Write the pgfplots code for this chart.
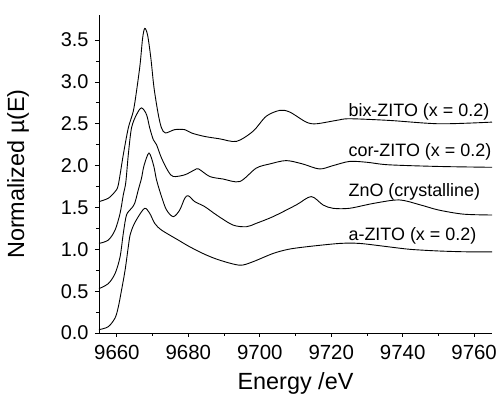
\documentclass[border=0pt]{standalone}
\usepackage{pgfplots}
\pgfplotsset{compat=1.18}
\usepackage{fontspec}
\setmainfont{Liberation Sans}
\begin{document}
\begin{tikzpicture}
\begin{axis}[
  scale only axis,
  width=393bp, height=318bp,
  xmin=9655, xmax=9765, ymin=0, ymax=3.8,
  axis x line=bottom, axis y line=left,
  axis line style={-, line width=0.8bp},
  tick align=outside,
  major tick length=4bp, minor tick length=3bp,
  every tick/.style={black, line width=0.8bp},
  xtick={9660,9680,...,9760}, minor x tick num=1,
  ytick={0,0.5,...,3.5}, minor y tick num=1,
  /pgf/number format/assume math mode=true,
  x tick label style={/pgf/number format/set thousands separator={}, font=\fontsize{20.5}{23}\selectfont, yshift=-5bp},
  y tick label style={/pgf/number format/.cd, fixed, fixed zerofill, precision=1, /tikz/.cd, font=\fontsize{20}{23}\selectfont, xshift=-3bp},
  xlabel={Energy /eV},
  ylabel={Normalized \textmu(E)},
  xlabel style={font=\fontsize{23.5}{28}\selectfont, at={(axis description cs:0.5,-0.179)}, anchor=base},
  ylabel style={font=\fontsize{23.5}{28}\selectfont, at={(axis description cs:-0.206,0.5)}, anchor=center},
  clip=false,
]
% a-ZITO
\addplot[black, line width=0.9bp, smooth, tension=0.5] coordinates {
(9655,0.04) (9657.6,0.075) (9659.5,0.18) (9660.4,0.31) (9661.3,0.51) (9662.3,0.75)
(9663.2,1.03) (9663.7,1.17) (9664.6,1.28) (9666,1.39) (9667.8,1.49) (9669.2,1.43)
(9670.6,1.31) (9672.5,1.23) (9677.2,1.11) (9680.4,1.03) (9684.6,0.94) (9688.8,0.87)
(9694.4,0.81) (9698,0.85) (9703.7,0.95) (9708,1.00) (9713,1.03) (9722.3,1.07)
(9728,1.07) (9736,1.03) (9742,1.00) (9750,0.98) (9758,0.97) (9765,0.97)
};
% ZnO
\addplot[black, line width=0.9bp, smooth, tension=0.5] coordinates {
(9655,0.53) (9657.6,0.59) (9659.5,0.71) (9660.9,0.91) (9661.8,1.19) (9662.7,1.41)
(9664.1,1.49) (9665,1.55) (9666,1.71) (9666.9,1.85) (9667.6,2.00) (9669,2.15)
(9670.3,2.00) (9671.1,1.83) (9672.5,1.63) (9673.9,1.47) (9675.8,1.39) (9677.6,1.47)
(9679,1.61) (9680,1.64) (9681.8,1.57) (9684.6,1.51) (9687.9,1.41) (9692.5,1.29)
(9696.3,1.27) (9699,1.31) (9703.7,1.39) (9710.2,1.53) (9714.4,1.63) (9717.7,1.53)
(9720.5,1.49) (9725.1,1.49) (9732,1.55) (9739,1.59) (9745,1.53) (9750,1.47)
(9757,1.42) (9765,1.41)
};
% cor-ZITO
\addplot[black, line width=0.9bp, smooth, tension=0.5] coordinates {
(9655,1.07) (9657.6,1.11) (9659.5,1.23) (9660.9,1.43) (9661.8,1.65) (9662.5,1.80)
(9663.2,2.13) (9664.1,2.45) (9665.5,2.61) (9666.9,2.69) (9668.3,2.61) (9669.2,2.45)
(9670.2,2.31) (9671.1,2.25) (9672.5,2.09) (9674.4,1.93) (9675.8,1.87) (9679,1.89)
(9681.8,1.95) (9682.9,1.96) (9686,1.87) (9689.7,1.84) (9694.4,1.81) (9699,1.97)
(9702.8,2.02) (9707.4,2.06) (9712,2.02) (9716.7,1.96) (9720.5,2.00) (9725.1,2.05)
(9730,2.04) (9736,2.01) (9750,1.99) (9765,1.98)
};
% bix-ZITO
\addplot[black, line width=0.9bp, smooth, tension=0.5] coordinates {
(9655,1.57) (9657.6,1.61) (9659.5,1.69) (9660.4,1.77) (9661.8,2.13) (9663.2,2.45)
(9664.6,2.65) (9665.5,2.89) (9666.5,3.21) (9667.2,3.52) (9667.8,3.64) (9668.6,3.56)
(9669.5,3.29) (9670.4,2.93) (9671.6,2.61) (9672.5,2.45) (9673.6,2.39) (9676.2,2.43)
(9679,2.43) (9680.9,2.39) (9684.4,2.35) (9688.8,2.32) (9693.5,2.29) (9698.1,2.41)
(9701.8,2.59) (9705.6,2.66) (9708.4,2.64) (9713,2.52) (9715.8,2.50) (9721.4,2.54)
(9725.1,2.56) (9736.3,2.54) (9750.3,2.50) (9765,2.52)
};
\node[anchor=west, font=\fontsize{18}{20}\selectfont, inner sep=0pt] at (axis cs:9724.8,2.64) {bix-ZITO (x = 0.2)};
\node[anchor=west, font=\fontsize{18}{20}\selectfont, inner sep=0pt] at (axis cs:9724.8,2.16) {cor-ZITO (x = 0.2)};
\node[anchor=west, font=\fontsize{18}{20}\selectfont, inner sep=0pt] at (axis cs:9724.8,1.69) {ZnO (crystalline)};
\node[anchor=west, font=\fontsize{18}{20}\selectfont, inner sep=0pt] at (axis cs:9724.8,1.16) {a-ZITO (x = 0.2)};
\end{axis}
\pgfresetboundingbox
\path[use as bounding box] ([xshift=-99bp,yshift=-62bp]current axis.south west) rectangle ([xshift=11bp,yshift=15bp]current axis.north east);
\end{tikzpicture}
\end{document}
